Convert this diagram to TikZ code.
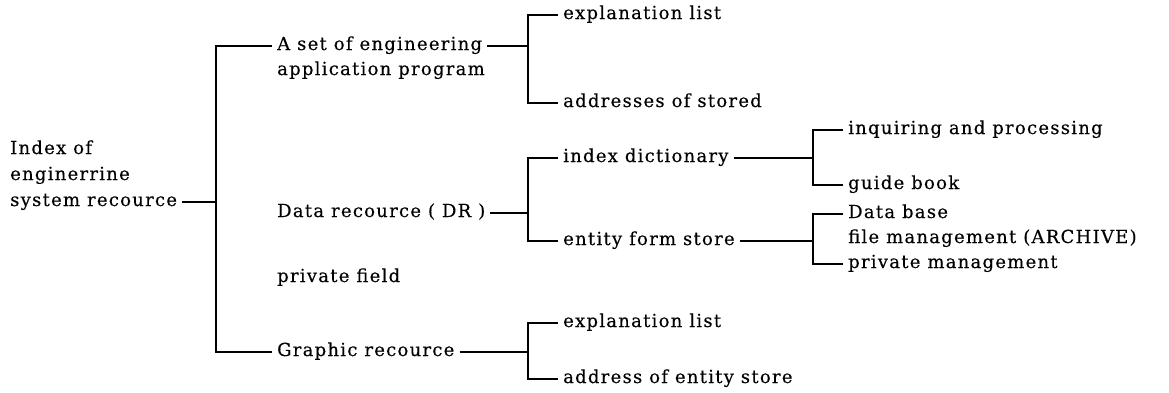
\documentclass[tikz,border=0pt]{standalone}
\usepackage{fontspec}
\setmainfont{DejaVu Serif}[LetterSpace=7, FakeBold=0.3]
\begin{document}
\begin{tikzpicture}[x=1pt,y=-1pt]
\tikzset{
  lbl/.style={font=\fontsize{18}{21}\selectfont, inner xsep=5pt, inner ysep=0pt,
              text height=12pt, text depth=4pt, anchor=west},
  wire/.style={line width=1.2pt, line cap=butt},
}
\useasboundingbox (0,0) rectangle (1169,392);

% bracket columns
\coordinate (t)  at (216,0);
\coordinate (k1) at (528,0);
\coordinate (k2) at (813,0);

% root
\node[lbl] (root1) at (5,150) {Index of};
\node[lbl] (root2) at (5,176) {enginerrine};
\node[lbl] (root3) at (5,202) {system recource};

% first level
\node[lbl] (a1) at (272,46) {A set of engineering};
\node[lbl] (a2) at (272,71) {application program};
\node[lbl] (dr) at (272,213) {Data recource ( DR )};
\node[lbl] (pf) at (272,278) {private field};
\node[lbl] (gr) at (272,352) {Graphic recource};

% second level
\node[lbl] (b1) at (558,15)  {explanation list};
\node[lbl] (b2) at (558,103) {addresses of stored};
\node[lbl] (c1) at (558,158) {index dictionary};
\node[lbl] (c2) at (558,241) {entity form store};
\node[lbl] (f1) at (558,323) {explanation list};
\node[lbl] (f2) at (558,379) {address of entity store};

% third level
\node[lbl] (d1) at (843,130) {inquiring and processing};
\node[lbl] (d2) at (843,185) {guide book};
\node[lbl] (e1) at (843,214) {Data base};
\node[lbl] (e2) at (843,239) {file management (ARCHIVE)};
\node[lbl] (e3) at (843,264) {private management};

% trunk
\draw[wire] (root3.east) -- (root3.east -| t);
\draw[wire] (a1.west) -- (a1.west -| t) -- (gr.west -| t) -- (gr.west);

% engineering programs
\draw[wire] (a1.east) -- (a1.east -| k1);
\draw[wire] (b1.west) -- (b1.west -| k1) -- (b2.west -| k1) -- (b2.west);

% data resources
\draw[wire] (dr.east) -- (dr.east -| k1);
\draw[wire] (c1.west) -- (c1.west -| k1) -- (c2.west -| k1) -- (c2.west);
\draw[wire] (c1.east) -- (c1.east -| k2);
\draw[wire] (d1.west) -- (d1.west -| k2) -- (d2.west -| k2) -- (d2.west);
\draw[wire] (c2.east) -- (c2.east -| k2);
\draw[wire] (e1.west) -- (e1.west -| k2) -- (e3.west -| k2) -- (e3.west);

% graphic resources
\draw[wire] (gr.east) -- (gr.east -| k1);
\draw[wire] (f1.west) -- (f1.west -| k1) -- (f2.west -| k1) -- (f2.west);
\end{tikzpicture}
\end{document}
